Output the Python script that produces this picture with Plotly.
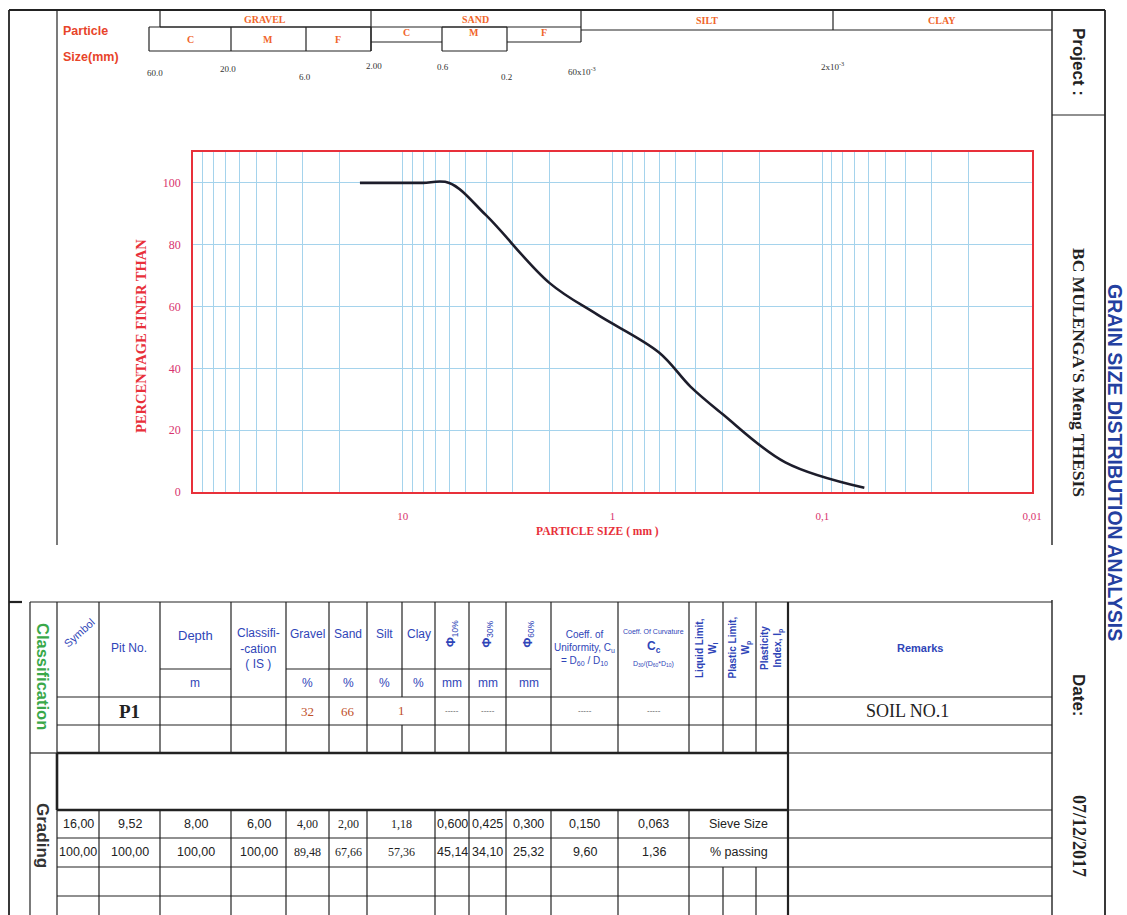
import plotly.graph_objects as go

# ---------------- data ----------------
sieve_size_mm = [16.00, 9.52, 8.00, 6.00, 4.00, 2.00, 1.18, 0.600, 0.425, 0.300, 0.150, 0.063]
percent_passing = [100.00, 100.00, 100.00, 100.00, 89.48, 67.66, 57.36, 45.14, 34.10, 25.32, 9.60, 1.36]
sieve_labels = ["16,00", "9,52", "8,00", "6,00", "4,00", "2,00", "1,18", "0,600", "0,425", "0,300", "0,150", "0,063"]
passing_labels = [f"{v:.2f}".replace(".", ",") for v in percent_passing]
serif_cells = [4, 5, 6]  # cells printed in a serif face on the form

x_tick_values = [10, 1, 0.1, 0.01]
x_tick_text = ["10", "1", "0,1", "0,01"]
y_tick_values = [0, 20, 40, 60, 80, 100]

soil_groups = ["GRAVEL", "SAND", "SILT", "CLAY"]
sub_groups = ["C", "M", "F"]
size_marks = ["60.0", "20.0", "6.0", "2.00", "0.6", "0.2", "60x10<sup>-3</sup>", "2x10<sup>-3</sup>"]

pit_no = "P1"
gravel_pct = "32"
sand_pct = "66"
fines_pct = "1"
remark = "SOIL NO.1"
project = "BC MULENGA'S Meng THESIS"
date = "07/12/2017"

# ---------------- page geometry ----------------
W, H = 1127, 915
L, R, T, B = 193, 1032, 152, 492

def X(px):
    return (px - L) / (R - L)

def Y(py):
    return (B - py) / (B - T)

SERIF = "Liberation Serif, Times New Roman, serif"
SANS = "Liberation Sans, Arial, sans-serif"
NARROW = "Liberation Sans Narrow, Arial Narrow, Liberation Sans, sans-serif"
BLUE = "#2f45b8"
ORANGE = "#f0652a"
RED = "#e8303a"
PINK = "#d8336e"
INK = "#222222"

shapes = []
annotations = []

def line(x0, y0, x1, y1, w=1.2, c=INK):
    shapes.append(dict(type="line", xref="paper", yref="paper",
                       x0=X(x0), y0=Y(y0), x1=X(x1), y1=Y(y1),
                       line=dict(color=c, width=w), layer="above"))

def rect(x0, y0, x1, y1, w=1.2, c=INK):
    line(x0, y0, x1, y0, w, c); line(x1, y0, x1, y1, w, c)
    line(x1, y1, x0, y1, w, c); line(x0, y1, x0, y0, w, c)

def text(x, y, s, size=11, color=INK, family=SANS, angle=0, xanchor="center"):
    annotations.append(dict(xref="paper", yref="paper", x=X(x), y=Y(y), text=s,
                            showarrow=False, textangle=angle, xanchor=xanchor,
                            yanchor="middle", font=dict(size=size, color=color, family=family)))

# ---------------- outer frame ----------------
line(9, 10, 1105, 10, 2.2)
line(9, 10, 9, 915, 1.8)
line(57, 10, 57, 545, 1.2)
line(1052, 10, 1052, 545, 1.4)
line(1052, 600, 1052, 915, 1.4)
line(1105, 10, 1105, 915, 1.8)
line(1052, 115, 1105, 115, 1.2)

# ---------------- header (soil fractions) ----------------
line(160, 10, 160, 27); line(160, 27, 581, 27)
rect(149, 27, 371, 51); line(231, 27, 231, 51); line(306, 27, 306, 51)
line(371, 10, 371, 51)
line(371, 42, 442, 42); rect(442, 27, 507, 51); line(507, 42, 581, 42)
line(581, 10, 581, 42)
line(581, 30, 1052, 30); line(833, 10, 833, 30)

group_x = [265, 475, 707, 942]
group_y = [19, 19, 20, 20]
for g, gx, gy in zip(soil_groups, group_x, group_y):
    text(gx, gy, f"<b>{g}</b>", 10, ORANGE, SERIF)
for s, sx in zip(sub_groups, [190, 268, 338]):
    text(sx, 39, f"<b>{s}</b>", 10, ORANGE, SERIF)
for s, sx in zip(sub_groups, [406, 474, 544]):
    text(sx, 33, f"<b>{s}</b>", 10, ORANGE, SERIF)

mark_x = [155, 228, 305, 374, 443, 506, 582, 832]
mark_y = [73, 69, 77, 66, 67, 77, 71, 66]
for m, mx, my in zip(size_marks, mark_x, mark_y):
    text(mx, my, m, 9, "#333333", SERIF)

text(61, 31, "<b>Particle</b>", 12.5, "#e8442a", NARROW, xanchor="left")
text(61, 57, "<b>Size(mm)</b>", 12.5, "#e8442a", NARROW, xanchor="left")

# ---------------- right column ----------------
text(1079, 62, "<b>Project :</b>", 17, INK, SANS, angle=90)
text(1079, 372, f"<b>{project}</b>", 17.5, INK, SERIF, angle=90)
text(1115, 462, "<b>GRAIN SIZE DISTRIBUTION ANALYSIS</b>", 19.5, "#2440a0", SANS, angle=90)
text(1079, 695, "<b>Date:</b>", 17, INK, SANS, angle=90)
text(1079, 836, f"<b>{date}</b>", 18, INK, SERIF, angle=90)

# ---------------- chart titles ----------------
text(597, 531, "<b>PARTICLE SIZE ( mm )</b>", 11.5, RED, SERIF)
text(141, 336, "<b>PERCENTAGE FINER THAN</b>", 14.5, RED, SERIF, angle=-90)

# ---------------- bottom table ----------------
top, hmid, hbot, r1, r2 = 602, 669, 697, 725, 753
g0, g1, g2, g3, bot = 810, 838, 867, 896, 915
cls_cols = [57, 99, 160, 231, 286, 329, 367, 402, 435, 469, 506, 551, 618, 689, 723, 756]

line(9, top, 22, top, 2.2)
line(30, top, 1052, top, 1.2)
line(30, top, 30, bot, 1.2)
for cx in cls_cols:
    if cx == 402:
        line(cx, top, cx, hbot); line(cx, r1, cx, r2)
    else:
        line(cx, top, cx, r2)
line(788, top, 788, bot, 2.2)
line(160, hmid, 231, hmid); line(286, hmid, 551, hmid)
for yy in [hbot, r1]:
    line(57, yy, 1052, yy)
line(30, r2, 57, r2)
line(57, r2, 788, r2, 2.6)
line(788, r2, 1052, r2)
line(57, r2, 57, g0, 2.6)
line(57, g0, 57, bot, 1.2)
line(57, g0, 788, g0, 2.6)
line(788, g0, 1052, g0)
for yy in [g1, g2, g3]:
    line(57, yy, 1052, yy)
grad_cols = [57, 99, 160, 231, 286, 329, 367, 435, 469, 506, 551, 618, 689, 788]
for cx in grad_cols[1:-1]:
    line(cx, g0, cx, bot)
for cx in [723, 756]:
    line(cx, g2, cx, bot)

# header texts
HS = 12
text(43, 676, "<b>Classification</b>", 16.5, "#3aa84a", SANS, angle=90)
text(43, 835, "<b>Grading</b>", 17, "#333333", SANS, angle=90)
text(79, 633, "Symbol", 11, BLUE, NARROW, angle=-42)
text(129, 648, "Pit No.", HS, BLUE, NARROW)
text(195, 635, "Depth", 13, BLUE, NARROW)
text(195, 683, "m", HS, BLUE, NARROW)
text(258, 648, "Classifi-<br>-cation<br>( IS )", HS, BLUE, NARROW)
for name, cx in zip(["Gravel", "Sand", "Silt", "Clay"], [307.5, 348, 384.5, 418.5]):
    text(cx, 634, name, HS, BLUE, NARROW)
    text(cx, 683, "%", HS, BLUE, NARROW)
for sub, cx in zip(["10%", "30%", "60%"], [452, 487.5, 528.5]):
    text(cx, 634, f"<b>Φ</b><sub>{sub}</sub>", 12, BLUE, SANS, angle=-90)
    text(cx, 683, "mm", HS, BLUE, NARROW)
text(584.5, 648, "Coeff. of<br>Uniformity, C<sub>u</sub><br>= D<sub>60</sub> / D<sub>10</sub>", 10, BLUE, NARROW)
text(653.5, 631, "Coeff. Of Curvature", 7, BLUE, NARROW)
text(653.5, 647, "<b>C<sub>c</sub></b>", 12, BLUE, SANS)
text(653.5, 664, "D<sub>30</sub>/(D<sub>60</sub>*D<sub>10</sub>)", 7, BLUE, NARROW)
text(706, 648, "<b>Liquid Limit,<br>W<sub>l</sub></b>", 10, BLUE, SANS, angle=-90)
text(739.5, 648, "<b>Plastic Limit,<br>W<sub>p</sub></b>", 10, BLUE, SANS, angle=-90)
text(772, 648, "<b>Plasticity<br>Index, I<sub>p</sub></b>", 10, BLUE, SANS, angle=-90)
text(920, 648, "<b>Remarks</b>", 11, BLUE, NARROW)

# P1 row
text(129.5, 711, f"<b>{pit_no}</b>", 19, INK, SERIF)
text(307.5, 711, gravel_pct, 13, "#c0502a", SERIF)
text(348, 711, sand_pct, 13, "#c0502a", SERIF)
text(401, 710, fines_pct, 13, "#c0502a", SERIF)
for cx in [452, 487.5, 584.5, 653.5]:
    text(cx, 710, "-----", 8, "#555555", SANS)
text(907, 711, remark, 18, INK, SERIF)

# grading rows
for i, (sl, pl) in enumerate(zip(sieve_labels, passing_labels)):
    cx = (grad_cols[i] + grad_cols[i + 1]) / 2
    fam = SERIF if i in serif_cells else NARROW
    sz = 12 if i in serif_cells else 12.5
    text(cx, 824, sl, sz, INK, fam)
    text(cx, 852, pl, sz, INK, fam)
text(738.5, 824, "Sieve Size", 12.5, INK, NARROW)
text(738.5, 852, "% passing", 12.5, INK, NARROW)

# ---------------- chart ----------------
minor_grid = [m * 10.0 ** e for e in range(-2, 2) for m in range(2, 10)]

fig = go.Figure()
fig.add_trace(go.Scatter(
    x=sieve_size_mm, y=percent_passing, mode="lines",
    line=dict(color="#1d1d2b", width=2.6, shape="spline", smoothing=1.0),
    hoverinfo="x+y", showlegend=False))

fig.update_layout(
    width=W, height=H, autosize=False,
    margin=dict(l=L, r=W - R, t=T, b=H - B, pad=0),
    paper_bgcolor="white", plot_bgcolor="white",
    template="none",
    shapes=shapes, annotations=annotations,
    showlegend=False,
)
fig.update_xaxes(
    type="log", range=[2, -2], automargin=False,
    tickmode="array", tickvals=x_tick_values, ticktext=x_tick_text,
    ticks="", ticklabelstandoff=13,
    tickfont=dict(family=SERIF, size=11, color=PINK),
    showgrid=True, gridcolor="#a5d3ec", gridwidth=1,
    minor=dict(tickmode="array", tickvals=minor_grid, showgrid=True,
               gridcolor="#a5d3ec", gridwidth=1, ticks=""),
    showline=True, linecolor=RED, linewidth=1.6, mirror=True, zeroline=False,
)
fig.update_yaxes(
    range=[0, 110], automargin=False,
    tickmode="array", tickvals=y_tick_values,
    ticks="", ticklabelstandoff=8,
    tickfont=dict(family=SERIF, size=12, color=PINK),
    showgrid=True, gridcolor="#a5d3ec", gridwidth=1,
    showline=True, linecolor=RED, linewidth=1.6, mirror=True, zeroline=False,
)

fig.write_html("out.html", config={"displayModeBar": False},
               post_script="document.body.style.margin='0px';document.body.style.overflow='hidden';")
